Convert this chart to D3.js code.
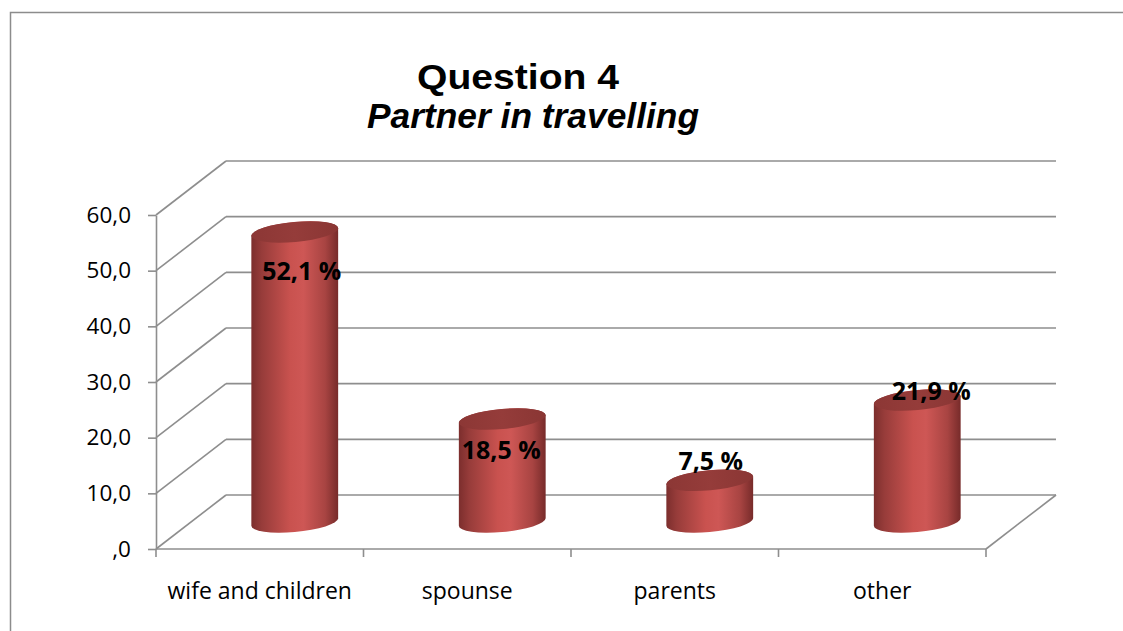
<!DOCTYPE html>
<html>
<head>
<meta charset="utf-8">
<script src="https://cdn.jsdelivr.net/npm/d3@7"></script>
<style>
  body { margin: 0; background: #fff; }
  svg { display: block; }
</style>
</head>
<body>
<svg id="chart" width="1123" height="631"></svg>
<script>
// ---- data ----
const categories = ["wife and children", "spounse", "parents", "other"];
const values = [52.1, 18.5, 7.5, 21.9];
const valueLabels = ["52,1 %", "18,5 %", "7,5 %", "21,9 %"];
const yTicks = [0, 10, 20, 30, 40, 50, 60];
const yTickLabels = [",0", "10,0", "20,0", "30,0", "40,0", "50,0", "60,0"];
const titleLines = ["Question 4", "Partner in travelling"];

// ---- layout ----
const W = 1123, H = 631;
const plot = { left: 156, right: 986, bottom: 549, top: 215 };
const depth = { dx: 70, dy: -54 };          // oblique offset of the back wall
const gridColor = "#8e8e8e";
const textFont = "'Open Sans', 'Noto Sans', sans-serif";
// hand-placed data label nudges (relative to cylinder top centre)
const labelNudge = [[7, 48], [-1, 40], [1, -10], [14, 0]];

const svg = d3.select("#chart");

// outer chart frame (runs off the right and bottom edges)
svg.append("rect")
  .attr("x", 10.5).attr("y", 12.5)
  .attr("width", W + 20).attr("height", H + 20)
  .attr("fill", "#fff").attr("stroke", "#8c8c8c").attr("stroke-width", 1.5);

const x = d3.scaleBand().domain(categories).range([plot.left, plot.right]).padding(0);
const y = d3.scaleLinear().domain([0, 60]).range([plot.bottom, plot.top]);

// ---- title ----
const title = svg.append("g")
  .attr("font-family", "'Liberation Sans', Arial, sans-serif")
  .attr("font-weight", "bold").attr("font-size", 35).attr("fill", "#000");
title.append("text").attr("x", 518).attr("y", 89).attr("text-anchor", "middle")
  .attr("textLength", 202).attr("lengthAdjust", "spacingAndGlyphs")
  .text(titleLines[0]);
title.append("text").attr("x", 533).attr("y", 128).attr("text-anchor", "middle")
  .attr("font-style", "italic")
  .attr("textLength", 332).attr("lengthAdjust", "spacingAndGlyphs")
  .text(titleLines[1]);

// ---- walls and gridlines ----
const grid = svg.append("g").attr("stroke", gridColor).attr("stroke-width", 1.6).attr("fill", "none");
// side wall diagonals
grid.selectAll("line.side").data(yTicks).join("line")
  .attr("class", "side")
  .attr("x1", plot.left).attr("y1", d => y(d))
  .attr("x2", plot.left + depth.dx).attr("y2", d => y(d) + depth.dy);
// back wall horizontals
grid.selectAll("line.back").data(yTicks).join("line")
  .attr("class", "back")
  .attr("x1", plot.left + depth.dx).attr("y1", d => y(d) + depth.dy)
  .attr("x2", plot.right + depth.dx).attr("y2", d => y(d) + depth.dy);
// right floor edge
grid.append("line")
  .attr("x1", plot.right).attr("y1", y(0))
  .attr("x2", plot.right + depth.dx).attr("y2", y(0) + depth.dy);

// ---- axes ----
const yAxis = svg.append("g")
  .attr("transform", `translate(${plot.left},0)`)
  .call(d3.axisLeft(y).tickValues(yTicks)
    .tickFormat((d, i) => yTickLabels[i])
    .tickSize(8).tickSizeOuter(0).tickPadding(17));
yAxis.selectAll("path, line").attr("stroke", gridColor).attr("stroke-width", 1.6);
yAxis.selectAll("text").attr("font-family", textFont).attr("font-size", 22.5).attr("fill", "#000");

const boundaries = categories.map(c => x(c)).concat([x.range()[1]]);
const xAxis = svg.append("g");
xAxis.append("line")
  .attr("x1", plot.left).attr("x2", plot.right)
  .attr("y1", y(0)).attr("y2", y(0))
  .attr("stroke", gridColor).attr("stroke-width", 1.6);
xAxis.selectAll("line.tick").data(boundaries).join("line")
  .attr("class", "tick")
  .attr("x1", d => d).attr("x2", d => d)
  .attr("y1", y(0)).attr("y2", y(0) + 8)
  .attr("stroke", gridColor).attr("stroke-width", 1.6);
xAxis.selectAll("text").data(categories).join("text")
  .attr("x", d => x(d) + x.bandwidth() / 2)
  .attr("y", 599)
  .attr("text-anchor", "middle")
  .attr("font-family", textFont).attr("font-size", 23).attr("fill", "#000")
  .text(d => d);

// ---- cylinders ----
const defs = svg.append("defs");
const bodyGrad = defs.append("linearGradient").attr("id", "cylBody")
  .attr("x1", "0").attr("x2", "1").attr("y1", "0").attr("y2", "0");
[[0, "#7c2e2d"], [0.12, "#973c3a"], [0.45, "#c9524f"], [0.6, "#ce5755"], [0.85, "#a84442"], [1, "#772b2a"]]
  .forEach(([o, c]) => bodyGrad.append("stop").attr("offset", o).attr("stop-color", c));
const topGrad = defs.append("linearGradient").attr("id", "cylTop")
  .attr("x1", "0").attr("x2", "1").attr("y1", "0").attr("y2", "0");
[[0, "#8c3735"], [0.5, "#953c3a"], [1, "#8a3634"]]
  .forEach(([o, c]) => topGrad.append("stop").attr("offset", o).attr("stop-color", c));

const rx = x.bandwidth() * 0.21;
const ry = 10;
const tiltDeg = -5.3;
const th = tiltDeg * Math.PI / 180;
// vertical tangent point of the tilted ellipse (offset from its centre)
const t0 = Math.atan(-(ry / rx) * Math.tan(th));
const ox = rx * Math.cos(t0) * Math.cos(th) - ry * Math.sin(t0) * Math.sin(th);
const oy = rx * Math.cos(t0) * Math.sin(th) + ry * Math.sin(t0) * Math.cos(th);

const bars = categories.map((c, i) => ({
  cat: c,
  value: values[i],
  label: valueLabels[i],
  nudge: labelNudge[i],
  cx: x(c) + x.bandwidth() / 2 + depth.dx / 2,
  baseY: y(0) + depth.dy / 2,
  topY: y(values[i]) + depth.dy / 2
}));

const cyl = svg.append("g").selectAll("g").data(bars).join("g");
cyl.append("path")
  .attr("fill", "url(#cylBody)")
  .attr("d", d => {
    const L = [d.cx - ox, d.topY - oy], Lb = [d.cx - ox, d.baseY - oy];
    const Rb = [d.cx + ox, d.baseY + oy], R = [d.cx + ox, d.topY + oy];
    return `M${L} L${Lb} A${rx} ${ry} ${tiltDeg} 0 0 ${Rb} L${R} A${rx} ${ry} ${tiltDeg} 0 0 ${L} Z`;
  });
cyl.append("ellipse")
  .attr("cx", 0).attr("cy", 0).attr("rx", rx).attr("ry", ry)
  .attr("transform", d => `translate(${d.cx},${d.topY}) rotate(${tiltDeg})`)
  .attr("fill", "url(#cylTop)");

// ---- value labels ----
svg.append("g").selectAll("text").data(bars).join("text")
  .attr("x", d => d.cx + d.nudge[0])
  .attr("y", d => d.topY + d.nudge[1])
  .attr("text-anchor", "middle")
  .attr("font-family", textFont).attr("font-weight", "bold")
  .attr("font-size", 25).attr("fill", "#000")
  .text(d => d.label);
</script>
</body>
</html>
